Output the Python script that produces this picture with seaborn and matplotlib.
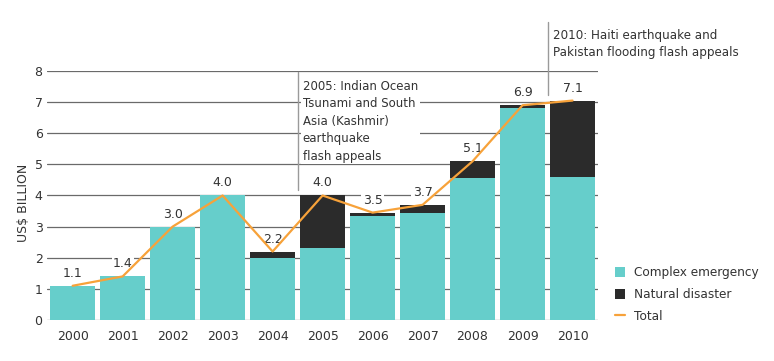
"""Humanitarian funding: complex emergencies vs natural disasters, 2000-2010."""

import matplotlib.pyplot as plt
import numpy as np
import pandas as pd
import seaborn as sns
from matplotlib.lines import Line2D
from matplotlib.patches import Patch

# Datos (US$ billion)
years = ["2000", "2001", "2002", "2003", "2004", "2005", "2006", "2007", "2008", "2009", "2010"]
complex_emergency = [1.1, 1.4, 3.0, 4.0, 2.0, 2.3, 3.35, 3.45, 4.55, 6.8, 4.6]
natural_disaster = [0.0, 0.0, 0.0, 0.0, 0.2, 1.7, 0.1, 0.25, 0.55, 0.1, 2.45]
total = [1.1, 1.4, 3.0, 4.0, 2.2, 4.0, 3.45, 3.7, 5.1, 6.9, 7.05]
total_labels = ["1.1", "1.4", "3.0", "4.0", "2.2", "4.0", "3.5", "3.7", "5.1", "6.9", "7.1"]

TEAL = "#66cecb"
DARK = "#2b2b2b"
ORANGE = "#f7a23a"
TEXT = "#333333"


def main() -> None:
    sns.set_style("white")
    plt.rcParams["font.family"] = ["DejaVu Sans"]

    df = pd.DataFrame({
        "year": years,
        "complex": complex_emergency,
        "natural": natural_disaster,
        "total": [c + n for c, n in zip(complex_emergency, natural_disaster)],
    })

    fig = plt.figure(figsize=(7.74, 3.61), dpi=100)
    ax = fig.add_axes([0.0603, 0.1136, 0.7117, 0.6897])

    # Grid
    for v in range(0, 9):
        ax.axhline(v, color="#6a6a6a", lw=0.9, zorder=0)

    # Barras apiladas: total (oscuro) y complex emergency encima
    sns.barplot(data=df, x="year", y="total", color=DARK, saturation=1,
                width=0.89, linewidth=0, ax=ax, zorder=2)
    sns.barplot(data=df, x="year", y="complex", color=TEAL, saturation=1,
                width=0.89, linewidth=0, ax=ax, zorder=3)

    # Línea total
    sns.lineplot(x=np.arange(len(years)), y=total, color=ORANGE, lw=1.6,
                 ax=ax, zorder=4)

    for i, lab in enumerate(total_labels):
        ax.annotate(lab, (i, total[i]), xytext=(0, 9), textcoords="offset points",
                    ha="center", va="center", fontsize=9, color=TEXT, zorder=3.5,
                    bbox=dict(boxstyle="square,pad=0.1", fc="white", ec="none"))

    # Anotaciones de flash appeals
    ax.plot([4.5, 4.5], [4.18, 7.97], color="#9a9a9a", lw=1, zorder=5, clip_on=False)
    ax.text(4.6, 7.72, "2005: Indian Ocean\nTsunami and South\nAsia (Kashmir)\nearthquake\nflash appeals",
            ha="left", va="top", fontsize=8.5, color=TEXT, linespacing=1.45, zorder=5,
            bbox=dict(boxstyle="square,pad=0.15", fc="white", ec="none"))
    ax.plot([9.5, 9.5], [7.23, 9.58], color="#9a9a9a", lw=1, zorder=5, clip_on=False)
    ax.text(9.6, 9.35, "2010: Haiti earthquake and\nPakistan flooding flash appeals",
            ha="left", va="top", fontsize=8.6, color=TEXT, linespacing=1.45, zorder=5,
            clip_on=False, bbox=dict(boxstyle="square,pad=0.15", fc="white", ec="none"))

    ax.set_xlim(-0.52, 10.5)
    ax.set_ylim(0, 8)
    ax.set_yticks(range(0, 9))
    ax.set_xlabel("")
    ax.set_ylabel("US\\$ BILLION", fontsize=9, color=TEXT, labelpad=0)
    ax.yaxis.set_label_coords(-0.03, 0.47)
    ax.tick_params(axis="both", length=0, labelsize=9, colors=TEXT)
    ax.tick_params(axis="x", pad=7)
    ax.tick_params(axis="y", pad=3)
    sns.despine(ax=ax, left=True, bottom=True)

    handles = [
        Patch(facecolor=TEAL, edgecolor="none", label="Complex emergency"),
        Patch(facecolor=DARK, edgecolor="none", label="Natural disaster"),
        Line2D([0], [0], color=ORANGE, lw=1.6, label="Total"),
    ]
    fig.legend(handles=handles, loc="lower left", bbox_to_anchor=(0.78, 0.075),
               frameon=False, fontsize=8.7, handlelength=0.9, handleheight=0.9,
               handletextpad=0.7, labelspacing=0.75, labelcolor=TEXT)

    fig.savefig("out.png", dpi=100)
    plt.close(fig)


if __name__ == "__main__":
    main()
